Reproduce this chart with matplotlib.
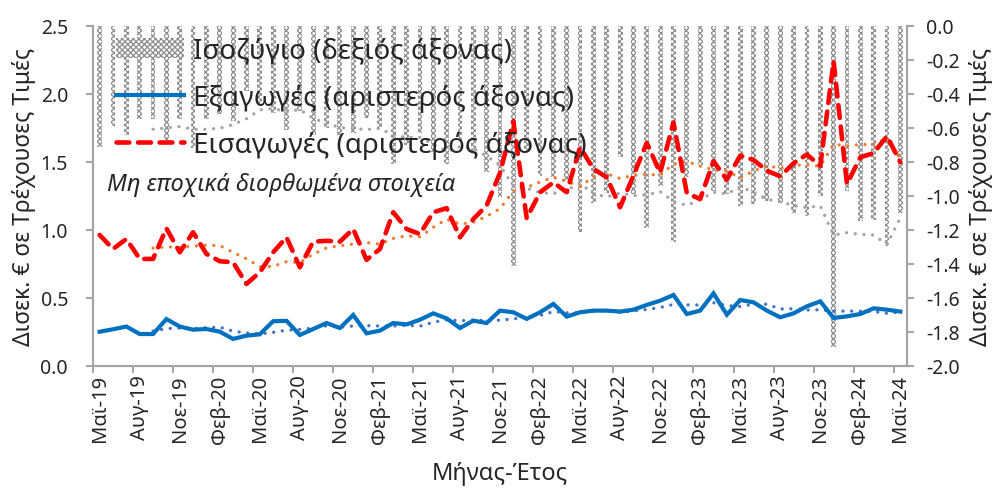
import matplotlib
matplotlib.use("Agg")
import matplotlib.pyplot as plt
import numpy as np
import pandas as pd

plt.rcParams['font.family'] = ['Noto Sans', 'DejaVu Sans']
plt.rcParams['axes.unicode_minus'] = False
plt.rcParams['hatch.linewidth'] = 0.9

# monthly data, Μαϊ-19 .. Μαϊ-24 (61 months), Δισεκ. €
exports = [0.252, 0.27, 0.29, 0.235, 0.235, 0.345, 0.29, 0.267, 0.272, 0.252,
           0.199, 0.223, 0.233, 0.329, 0.332, 0.228, 0.272, 0.316, 0.279, 0.375,
           0.24, 0.26, 0.316, 0.306, 0.34, 0.387, 0.35, 0.279, 0.333, 0.316,
           0.407, 0.395, 0.346, 0.395, 0.456, 0.363, 0.395, 0.407, 0.407, 0.40,
           0.414, 0.449, 0.48, 0.522, 0.382, 0.407, 0.534, 0.377, 0.485, 0.468,
           0.407, 0.358, 0.387, 0.439, 0.475, 0.353, 0.365, 0.382, 0.424, 0.414,
           0.40]
imports = [0.963, 0.86, 0.934, 0.787, 0.787, 1.012, 0.836, 0.983, 0.824, 0.77,
           0.762, 0.603, 0.689, 0.836, 0.946, 0.726, 0.914, 0.92, 0.914, 1.007,
           0.78, 0.86, 1.13, 1.007, 0.97, 1.13, 1.16, 0.946, 1.08, 1.18,
           1.42, 1.80, 1.086, 1.277, 1.35, 1.277, 1.608, 1.449, 1.387, 1.167,
           1.40, 1.64, 1.42, 1.79, 1.27, 1.228, 1.505, 1.37, 1.546, 1.515,
           1.435, 1.394, 1.49, 1.555, 1.47, 2.24, 1.338, 1.534, 1.565, 1.69,
           1.498]
balance = [-0.71, -0.59, -0.64, -0.55, -0.55, -0.67, -0.55, -0.72, -0.55, -0.52,
           -0.56, -0.38, -0.46, -0.51, -0.61, -0.50, -0.64, -0.60, -0.64, -0.63,
           -0.54, -0.60, -0.81, -0.70, -0.63, -0.74, -0.81, -0.67, -0.75, -0.86,
           -1.01, -1.41, -0.74, -0.88, -0.89, -0.91, -1.21, -1.04, -0.98, -0.77,
           -0.99, -1.19, -0.94, -1.27, -0.89, -0.82, -0.97, -0.99, -1.06, -1.05,
           -1.03, -1.04, -1.10, -1.12, -1.00, -1.89, -0.97, -1.15, -1.14, -1.28,
           -1.10]
tick_labels = ['Μαϊ-19', 'Αυγ-19', 'Νοε-19', 'Φεβ-20', 'Μαϊ-20', 'Αυγ-20',
               'Νοε-20', 'Φεβ-21', 'Μαϊ-21', 'Αυγ-21', 'Νοε-21', 'Φεβ-22',
               'Μαϊ-22', 'Αυγ-22', 'Νοε-22', 'Φεβ-23', 'Μαϊ-23', 'Αυγ-23',
               'Νοε-23', 'Φεβ-24', 'Μαϊ-24']

n = len(exports)
x = np.arange(n) + 0.5  # category centres
# 5-month moving-average trendlines
ma_exp = pd.Series(exports).rolling(5).mean()
ma_imp = pd.Series(imports).rolling(5).mean()
ma_bal = pd.Series(balance).rolling(5).mean()

grey = '#a6a6a6'
txt = '#262626'

fig = plt.figure(figsize=(10, 4.89), dpi=100)
ax1 = fig.add_axes([0.093, 0.2495, 0.814, 0.6955])
ax2 = ax1.twinx()
ax1.set_zorder(2)
ax1.patch.set_visible(False)

# balance bars hanging from 0 on right axis
bars = ax2.bar(x, balance, width=0.36, color='white', edgecolor='#8c8c8c',
               hatch='xxxxxx', linewidth=0, zorder=1)
ax2.plot(x, ma_bal, color='#a5a5a5', lw=2.4, linestyle=(0, (0.01, 2.6)),
         dash_capstyle='round', zorder=2)

dots = (0, (0.01, 2.6))
ax1.plot(x, ma_imp, color='#ed7d31', lw=2.4, linestyle=dots, dash_capstyle='round')
ax1.plot(x, ma_exp, color='#4472c4', lw=2.4, linestyle=dots, dash_capstyle='round')
l_exp, = ax1.plot(x, exports, color='#0070c0', lw=3.0, solid_joinstyle='miter')
l_imp, = ax1.plot(x, imports, color='#ff0000', lw=3.3, linestyle=(0, (2.8, 1.9)),
                  dash_capstyle='round')

ax1.set_xlim(0, n)
ax1.set_ylim(0, 2.5)
ax2.set_ylim(-2, 0)
lticks = np.arange(0, 2.51, 0.5)
rticks = np.round(np.arange(-2, 0.01, 0.2), 1)
ax1.set_yticks(lticks)
ax1.set_yticklabels([f'{v:.1f}' for v in lticks])
ax2.set_yticks(rticks)
ax2.set_yticklabels([f'{v:.1f}' if v != 0 else '0.0' for v in rticks])

ax1.set_xticks(np.arange(0, n, 3), minor=True)
ax1.set_xticks(np.arange(0, n, 3) + 0.5)
ax1.set_xticklabels(tick_labels, rotation=90)
ax1.tick_params(axis='x', which='major', length=0, pad=6)
ax1.tick_params(axis='x', which='minor', length=5, width=1.5, color=grey)

for ax in (ax1, ax2):
    for s in ax.spines.values():
        s.set_color(grey)
        s.set_linewidth(1.5)
    ax.spines['top'].set_visible(False)
    ax.tick_params(axis='y', length=5, width=1.5, color=grey, labelsize=14,
                   labelcolor=txt)
    ax.tick_params(axis='x', labelsize=14.5, labelcolor=txt)
ax1.tick_params(axis='y', pad=13)
ax2.tick_params(axis='y', pad=9)

ax1.set_ylabel('Δισεκ. € σε Τρέχουσες Τιμές', fontsize=16.5, color=txt, labelpad=3)
ax2.set_ylabel('Δισεκ. € σε Τρέχουσες Τιμές', fontsize=16.5, color=txt,
               rotation=90, labelpad=6)
ax1.set_xlabel('Μήνας-Έτος', fontsize=17, color=txt, labelpad=13)

ax1.text(0.017, 0.535, 'Μη εποχικά διορθωμένα στοιχεία', transform=ax1.transAxes,
         fontsize=17, style='italic', color=txt, va='center', ha='left')

leg = ax1.legend([bars, l_exp, l_imp],
                 ['Ισοζύγιο (δεξιός άξονας)', 'Εξαγωγές (αριστερός άξονας)',
                  'Εισαγωγές (αριστερός άξονας)'],
                 loc='upper left', bbox_to_anchor=(0.004, 1.025), frameon=False,
                 fontsize=20, handlelength=2.45, handletextpad=0.35,
                 labelspacing=0.68, borderpad=0.2)
for t in leg.get_texts():
    t.set_color(txt)

fig.savefig('out.png', dpi=100)
